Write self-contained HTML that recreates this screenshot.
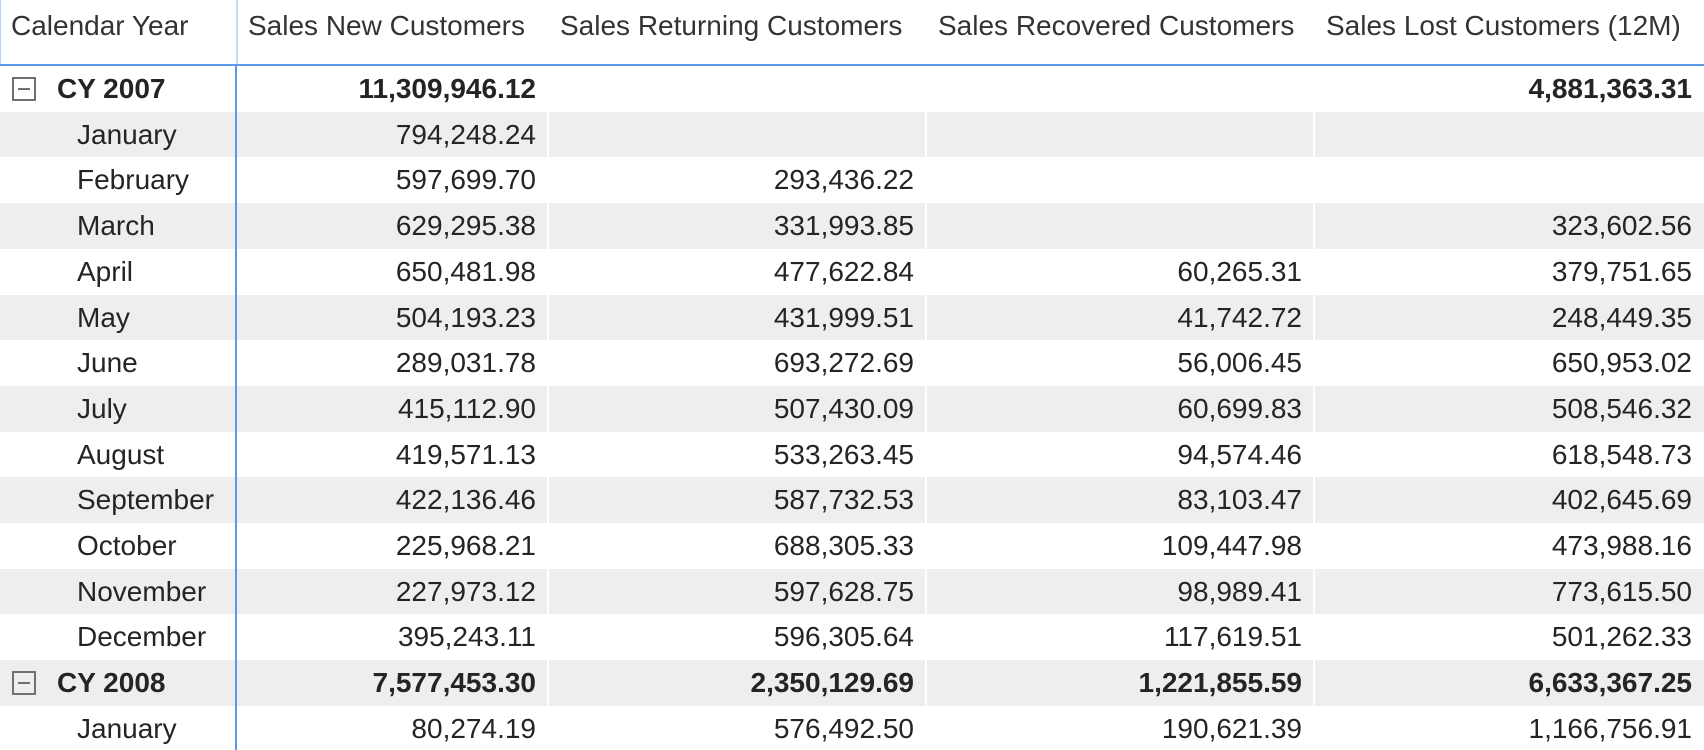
<!DOCTYPE html>
<html><head><meta charset="utf-8"><style>
html,body{margin:0;padding:0;background:#fff;}
#wrap{position:relative;width:1704px;height:750px;overflow:hidden;font-family:"Liberation Sans",Arial,sans-serif;color:#252423;}
.c{position:absolute;white-space:nowrap;font-size:28px;line-height:45px;}
.r{text-align:right;}
.b{font-weight:bold;}
.bg{position:absolute;left:0;width:1704px;background:#eeeeee;}
.sep{position:absolute;width:2px;background:#fff;}
.icon{position:absolute;width:20px;height:20px;border:2px solid #707070;box-sizing:content-box;}
.icon:after{content:"";position:absolute;left:4px;right:4px;top:9px;height:2px;background:#707070;}
</style></head><body>
<div id="wrap"></div>
<script>
const headers=["Calendar Year","Sales New Customers","Sales Returning Customers","Sales Recovered Customers","Sales Lost Customers (12M)"];
const rowLabels=["CY 2007","January","February","March","April","May","June","July","August","September","October","November","December","CY 2008","January"];
const rowIsYear=[1,0,0,0,0,0,0,0,0,0,0,0,0,1,0];
const newCust=["11,309,946.12","794,248.24","597,699.70","629,295.38","650,481.98","504,193.23","289,031.78","415,112.90","419,571.13","422,136.46","225,968.21","227,973.12","395,243.11","7,577,453.30","80,274.19"];
const retCust=["","","293,436.22","331,993.85","477,622.84","431,999.51","693,272.69","507,430.09","533,263.45","587,732.53","688,305.33","597,628.75","596,305.64","2,350,129.69","576,492.50"];
const recCust=["","","","","60,265.31","41,742.72","56,006.45","60,699.83","94,574.46","83,103.47","109,447.98","98,989.41","117,619.51","1,221,855.59","190,621.39"];
const lostCust=["4,881,363.31","","","323,602.56","379,751.65","248,449.35","650,953.02","508,546.32","618,548.73","402,645.69","473,988.16","773,615.50","501,262.33","6,633,367.25","1,166,756.91"];

const colL=[0,236,548,926,1314];
const colR=[236,548,926,1314,1704];
const top0=66, rh=45.7;
const wrap=document.getElementById('wrap');
function mk(cls,name,inter){const d=document.createElement('div');d.className=cls;


wrap.appendChild(d);return d;}
headers.forEach((h,i)=>{const d=mk('c','column-header-'+i,true);
d.style.top='4px';d.style.lineHeight='44px';d.style.color='#333';
if(i===0){d.style.left='11px';}else{d.style.left=(colL[i]+12)+'px';}
d.textContent=h;});
let v=mk('','header-left-border',false);v.style.cssText='position:absolute;left:0;top:0;width:1px;height:65px;background:#b8d4f5;';
v=mk('','header-divider',false);v.style.cssText='position:absolute;left:236px;top:0;width:2px;height:65px;background:#c4dcf7;';
const cols=[newCust,retCust,recCust,lostCust];
rowLabels.forEach((lab,r)=>{
 const y=top0+r*rh;
 if(r%2===1){const g=mk('bg','row-band-'+r,false);g.style.top=y+'px';g.style.height=rh+'px';
  for(let k=1;k<5;k++){const s=mk('sep','cell-separator',false);s.style.left=(colL[k]-1)+'px';s.style.top=y+'px';s.style.height=rh+'px';}}
});
rowLabels.forEach((lab,r)=>{
 const y=top0+r*rh;
 const yr=rowIsYear[r];
 if(yr){const ic=mk('icon','collapse-icon',true);ic.style.left='12px';ic.style.top=(y+11)+'px';}
 const l=mk('c'+(yr?' b':''),yr?'year-label':'month-label',yr?true:false);
 l.style.left=(yr?57:77)+'px';l.style.top=y+'px';l.textContent=lab;
 cols.forEach((arr,ci)=>{ if(!arr[r])return;
  const d=mk('c r'+(yr?' b':''),'value-cell',false);
  d.style.right=(1704-colR[ci+1]+12)+'px';d.style.top=y+'px';d.textContent=arr[r];});
});
v=mk('','header-bottom-line',false);v.style.cssText='position:absolute;left:0;top:64px;width:1704px;height:2px;background:#5a9ae6;';
v=mk('','row-header-border',false);v.style.cssText='position:absolute;left:235px;top:64px;width:2px;height:686px;background:#5a9ae6;';
</script>
</body></html>
